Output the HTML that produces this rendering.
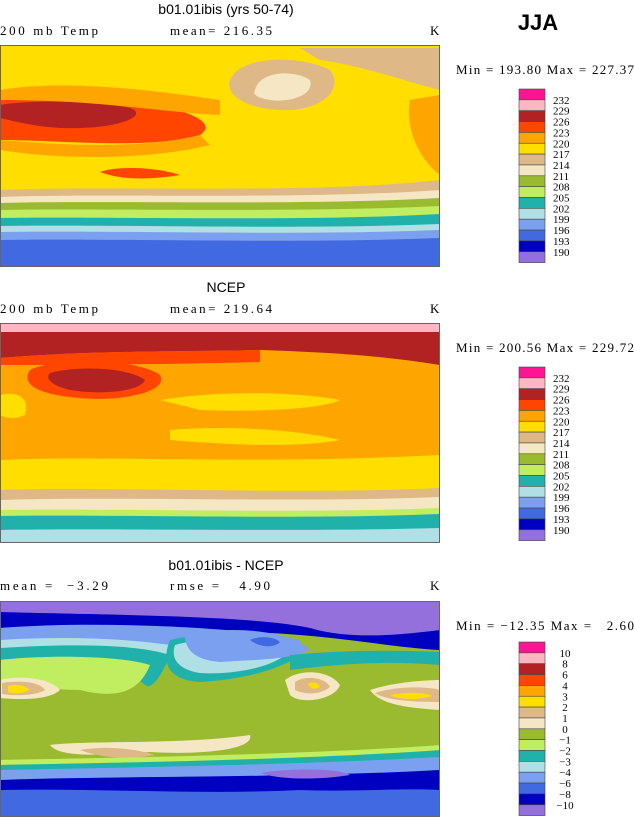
<!DOCTYPE html>
<html><head><meta charset="utf-8"><style>
body{margin:0;background:#fff;width:634px;height:820px;overflow:hidden;font-family:"Liberation Serif",serif;}
svg{position:absolute;left:0;top:0}
text{white-space:pre}
.t{font-family:"Liberation Sans",sans-serif;font-size:14px}
.s{font-size:13px;font-family:"Liberation Serif",serif}
.l{font-size:11px;font-family:"Liberation Serif",serif}
</style></head><body>
<svg width="634" height="820">
<defs>
<clipPath id="c1"><rect x="1" y="46" width="438" height="220"/></clipPath>
<clipPath id="c2"><rect x="1" y="324" width="438" height="218"/></clipPath>
<clipPath id="c3"><rect x="1" y="602" width="438" height="215"/></clipPath>
</defs>
<text x="226" y="14" class="t" text-anchor="middle">b01.01ibis (yrs 50-74)</text>
<text x="538" y="30" font-family="Liberation Sans" font-weight="bold" font-size="22" text-anchor="middle">JJA</text>
<text x="0" y="35" class="s" textLength="98">200 mb Temp</text>
<text x="170" y="35" class="s" textLength="102">mean= 216.35</text>
<text x="430" y="35" class="s">K</text>
<text x="456" y="74" class="s" textLength="178">Min = 193.80 Max = 227.37</text>

<g clip-path="url(#c1)">
<rect x="0" y="45" width="440" height="222" fill="#ffde00"/>
<path d="M0,100 C40,90 120,95 160,105 C200,115 215,125 200,135 C150,150 60,140 0,140Z" fill="#ff4500"/>
<path d="M0,105 C30,100 90,100 130,108 C150,115 120,130 60,128 C30,126 10,120 0,118Z" fill="#b22222"/>
<path d="M0,90 C60,80 140,88 220,100 L220,115 C160,112 100,100 0,100Z" fill="#ffa500"/>
<path d="M0,140 C60,145 140,150 200,135 L210,145 C150,160 60,160 0,150Z" fill="#ffa500"/>
<path d="M100,172 C120,165 160,168 180,175 C150,180 120,180 100,172Z" fill="#ff4500"/>
<path d="M230,80 C240,55 300,55 330,70 C345,90 320,112 280,110 C245,108 225,95 230,80Z" fill="#deb887"/>
<path d="M255,90 C260,70 295,70 310,80 C315,95 290,103 270,100 C258,98 252,95 255,90Z" fill="#f5e6c4"/>
<path d="M300,48 L440,48 L440,90 C400,80 360,65 320,60Z" fill="#deb887"/>
<path d="M410,100 L440,95 L440,175 C420,160 405,130 410,100Z" fill="#ffa500"/>
<path d="M0,190 C100,185 300,195 440,180 L440,267 L0,267Z" fill="#deb887"/>
<path d="M0,197 C100,193 300,200 440,190 L440,267 L0,267Z" fill="#f5e6c4"/>
<path d="M0,203 C100,200 300,206 440,198 L440,267 L0,267Z" fill="#9aba30"/>
<path d="M0,210 C100,208 300,213 440,206 L440,267 L0,267Z" fill="#c0ee60"/>
<path d="M0,218 C100,216 300,222 440,214 L440,267 L0,267Z" fill="#20b2aa"/>
<path d="M0,226 C100,224 300,230 440,224 L440,267 L0,267Z" fill="#b0e0e6"/>
<path d="M0,232 C100,230 300,236 440,230 L440,267 L0,267Z" fill="#7ba0f0"/>
<path d="M0,240 C100,238 300,244 440,238 L440,267 L0,267Z" fill="#4169e1"/>
</g>
<rect x="0.5" y="45.5" width="439" height="221" fill="none" stroke="#666"/>

<text x="226" y="292" class="t" text-anchor="middle">NCEP</text>
<text x="0" y="313" class="s" textLength="98">200 mb Temp</text>
<text x="170" y="313" class="s" textLength="102">mean= 219.64</text>
<text x="430" y="313" class="s">K</text>
<text x="456" y="352" class="s" textLength="178">Min = 200.56 Max = 229.72</text>
<g clip-path="url(#c2)">
<rect x="0" y="323" width="440" height="220" fill="#ffa500"/>
<rect x="0" y="323" width="440" height="10" fill="#ffb6c1"/>
<path d="M0,332 L440,332 L440,365 C380,355 320,352 260,350 C180,352 100,350 0,358Z" fill="#b22222"/>
<path d="M0,358 C100,350 180,352 260,350 L260,362 C180,364 100,365 0,365Z" fill="#ff4500"/>
<path d="M30,370 C60,355 140,360 160,375 C170,392 120,402 80,398 C40,395 20,385 30,370Z" fill="#ff4500"/>
<path d="M50,373 C80,365 130,368 145,380 C140,392 100,395 70,390 C50,385 45,378 50,373Z" fill="#b22222"/>
<path d="M0,395 C20,390 30,400 25,415 C15,420 5,418 0,415Z" fill="#ffde00"/>
<path d="M160,400 C220,390 300,392 340,400 C320,410 250,412 200,410Z" fill="#ffde00"/>
<path d="M170,430 C230,425 300,430 340,440 C300,448 230,445 170,440Z" fill="#ffde00"/>
<path d="M0,460 C100,455 250,465 440,455 L440,543 L0,543Z" fill="#ffde00"/>
<path d="M0,490 C100,486 300,495 440,488 L440,543 L0,543Z" fill="#deb887"/>
<path d="M0,500 C100,496 300,503 440,497 L440,543 L0,543Z" fill="#f5e6c4"/>
<path d="M0,510 C100,508 300,514 440,508 L440,543 L0,543Z" fill="#c0ee60"/>
<path d="M0,516 C100,514 300,520 440,514 L440,543 L0,543Z" fill="#20b2aa"/>
<path d="M0,530 C100,528 300,532 440,528 L440,543 L0,543Z" fill="#b0e0e6"/>
</g>
<rect x="0.5" y="323.5" width="439" height="219" fill="none" stroke="#666"/>

<text x="226" y="570" class="t" text-anchor="middle">b01.01ibis - NCEP</text>
<text x="0" y="590" class="s" textLength="108">mean =  −3.29</text>
<text x="170" y="590" class="s" textLength="100">rmse =   4.90</text>
<text x="430" y="590" class="s">K</text>
<text x="456" y="630" class="s" textLength="178">Min = −12.35 Max =   2.60</text>
<g clip-path="url(#c3)">
<rect x="0" y="601" width="440" height="220" fill="#9aba30"/>
<path d="M0,601 L440,601 L440,650 C400,648 360,640 300,635 C250,630 150,630 0,650Z" fill="#0000c0"/>
<path d="M0,601 L440,601 L440,630 C400,635 350,640 310,628 C250,615 100,615 0,612Z" fill="#9370db"/>
<path d="M0,628 C100,620 250,628 300,640 L300,660 C250,650 100,640 0,640Z" fill="#7ba0f0"/>
<path d="M0,640 C80,635 150,640 200,650 L200,662 C120,655 60,650 0,652Z" fill="#b0e0e6"/>
<path d="M0,648 C80,643 140,645 170,655 C160,680 150,690 145,685 C130,670 80,660 0,660Z" fill="#20b2aa"/>
<path d="M170,640 C210,630 280,635 300,655 C280,670 240,680 200,682 C170,680 160,665 170,640Z" fill="#20b2aa"/>
<path d="M175,645 C210,635 270,640 285,655 C270,668 230,675 200,673 C180,670 170,660 175,645Z" fill="#b0e0e6"/>
<path d="M185,635 C230,625 290,630 310,650 C290,660 250,660 220,662 C195,660 185,650 185,635Z" fill="#7ba0f0"/>
<path d="M250,640 C260,635 275,637 280,642 C275,648 260,648 250,640Z" fill="#4169e1"/>
<path d="M290,655 C340,650 400,650 440,652 L440,665 C380,660 330,665 290,670Z" fill="#20b2aa"/>
<path d="M0,660 C40,655 120,655 150,665 C140,690 120,700 80,690 C40,690 10,680 0,680Z" fill="#c0ee60"/>
<path d="M0,680 C20,675 50,678 60,690 C50,700 20,700 0,698Z" fill="#f5e6c4"/>
<path d="M2,683 C20,680 40,682 45,690 C35,696 15,696 2,694Z" fill="#deb887"/>
<path d="M8,686 C15,684 25,685 30,690 C22,694 12,694 8,692Z" fill="#ffde00"/>
<path d="M285,680 C300,668 330,670 340,685 C335,700 300,705 290,695Z" fill="#f5e6c4"/>
<path d="M295,682 C305,675 325,677 330,687 C320,695 305,695 295,690Z" fill="#deb887"/>
<path d="M308,684 C312,681 318,682 320,687 C315,690 310,689 308,684Z" fill="#ffde00"/>
<path d="M370,690 C400,680 440,680 440,680 L440,710 C410,708 380,705 370,690Z" fill="#f5e6c4"/>
<path d="M375,693 C400,685 430,687 440,690 L440,702 C410,702 385,700 375,693Z" fill="#deb887"/>
<path d="M390,695 C405,692 425,692 432,696 C420,700 400,700 390,695Z" fill="#ffde00"/>
<path d="M50,745 C90,740 180,745 250,735 C255,750 200,755 150,752 C100,755 60,758 50,745Z" fill="#f5e6c4"/>
<path d="M80,750 C110,745 140,750 155,755 C130,760 100,758 80,750Z" fill="#deb887"/>
<path d="M0,760 C100,758 300,755 440,745 L440,821 L0,821Z" fill="#c0ee60"/>
<path d="M0,765 C100,763 300,760 440,750 L440,821 L0,821Z" fill="#20b2aa"/>
<path d="M0,770 C100,768 300,765 440,757 L440,821 L0,821Z" fill="#7ba0f0"/>
<path d="M0,780 C100,776 300,778 440,770 L440,821 L0,821Z" fill="#0000c0"/>
<path d="M260,773 C290,768 340,768 350,775 C320,780 280,780 260,773Z" fill="#9370db"/>
<path d="M0,790 C100,788 200,795 300,790 C350,792 400,788 440,790 L440,821 L0,821Z" fill="#4169e1"/>
</g>
<rect x="0.5" y="601.5" width="439" height="215" fill="none" stroke="#666"/>
<g id="legends"></g>
</svg>
<script>
const colors=["#ff1493","#ffb6c1","#b22222","#ff4500","#ffa500","#ffde00","#deb887","#f5e6c4","#9aba30","#c0ee60","#20b2aa","#b0e0e6","#7ba0f0","#4169e1","#0000c0","#9370db"];
const labelsT=["232","229","226","223","220","217","214","211","208","205","202","199","196","193","190"];
const labelsD=["10","8","6","4","3","2","1","0","−1","−2","−3","−4","−6","−8","−10"];
const legTops=[89,367,642];
const legLabels=[labelsT,labelsT,labelsD];
const g=document.getElementById('legends');
const NS="http://www.w3.org/2000/svg";
legTops.forEach((top,li)=>{
  const h=10.85;
  colors.forEach((c,i)=>{
    const r=document.createElementNS(NS,'rect');
    r.setAttribute('x',519);r.setAttribute('y',top+i*h);r.setAttribute('width',26);r.setAttribute('height',h);
    r.setAttribute('fill',c);r.setAttribute('stroke','#444');r.setAttribute('stroke-width','0.6');
    
    
    g.appendChild(r);
  });
  legLabels[li].forEach((s,i)=>{
    const t=document.createElementNS(NS,'text');
    t.setAttribute('x',li==2?565:553);t.setAttribute('y',top+(i+1)*h+4);
    if(li==2)t.setAttribute('text-anchor','middle');
    t.setAttribute('class','l');t.textContent=s;
    
    
    g.appendChild(t);
  });
});
</script>
</body></html>
